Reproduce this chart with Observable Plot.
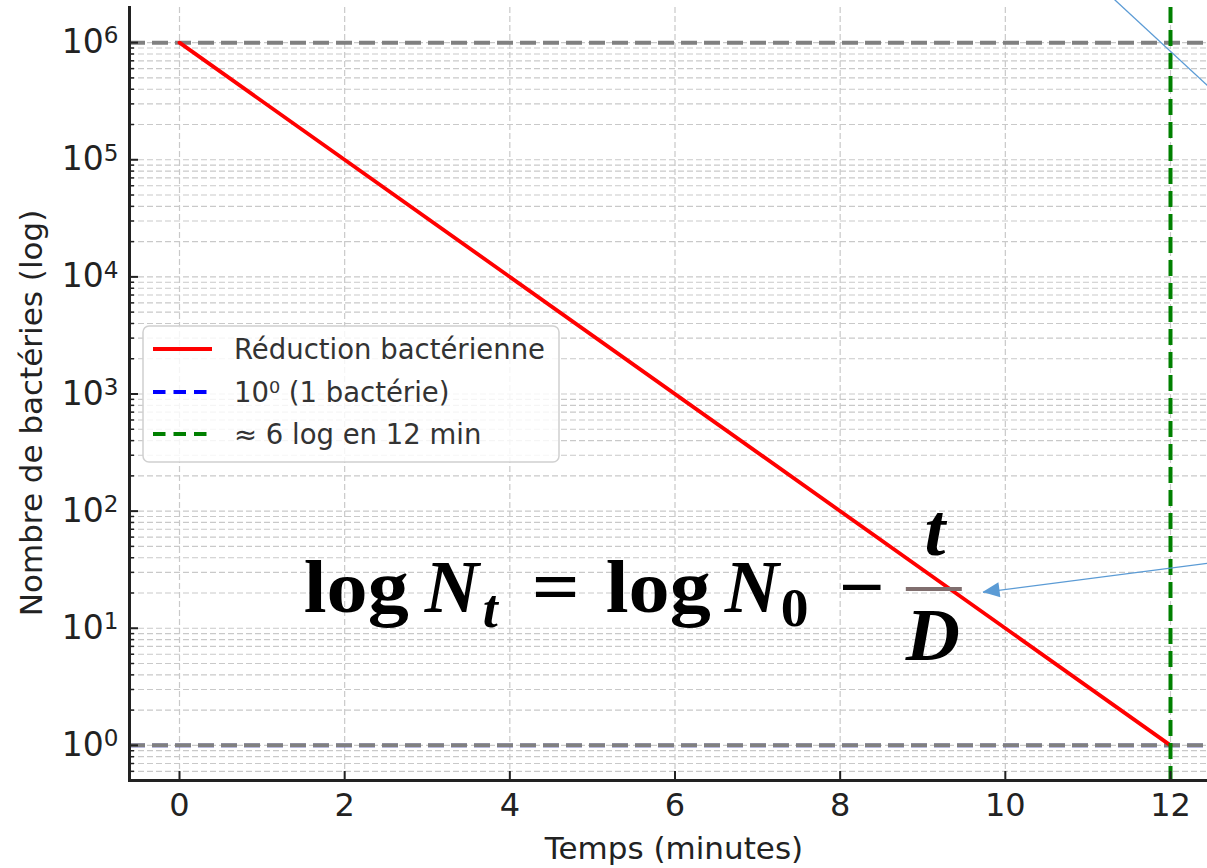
<!DOCTYPE html>
<html><head><meta charset="utf-8">
<script src="https://cdn.jsdelivr.net/npm/d3@7"></script>
<script src="https://cdn.jsdelivr.net/npm/@observablehq/plot@0.6"></script>
<style>
body{margin:0;background:#fff}
#chart{position:relative;width:1207px;height:868px;overflow:hidden;background:#fff}
</style>
</head><body><div id="chart"></div>
<script>
// ---- data ----
const times = [0, 12];                 // minutes
const counts = [1e6, 1];               // bacteria
const xTicks = [0, 2, 4, 6, 8, 10, 12];
const yTicks = [1, 10, 100, 1e3, 1e4, 1e5, 1e6];
const yTickLabels = ["10^0", "10^1", "10^2", "10^3", "10^4", "10^5", "10^6"];
const greyLevels = [1e6, 1];
const oneBacteria = [1];
const greenTime = [12];
const legendLabels = ["Réduction bactérienne", "10⁰ (1 bactérie)", "≈ 6 log en 12 min"];
const legendColors = ["#ff0000", "#0000ff", "#008000"];
const legendDashed = [false, true, true];
const xLabel = "Temps (minutes)";
const yLabel = "Nombre de bactéries (log)";
// annotation anchors (data coordinates)
const eqAnchor = {x: 9.14, y: 21.45};
const arrowA = {x1: 13, y1: 40.2, x2: 9.73, y2: 20.2};
const arrowB = {x1: 11.27, y1: 2.52e6, x2: 12.7, y2: 2.94e5};

const line = times.map((t, i) => ({t, n: counts[i]}));
const yDomain = [10 ** -0.3, 10 ** 6.3];
const minorTicks = [];
for (let k = -1; k <= 6; k++) for (let m = 2; m <= 9; m++) {
  const v = m * 10 ** k;
  if (v > yDomain[0] && v < yDomain[1]) minorTicks.push(v);
}
const labelOf = new Map(yTicks.map((v, i) => [v, yTickLabels[i]]));

const W = 1207, H = 868;
const ink = "#222222";
const font = "DejaVu Sans";

const plot = Plot.plot({
  width: W, height: H,
  marginLeft: 129, marginRight: 0, marginTop: 7, marginBottom: 88,
  style: {fontFamily: font, background: "#ffffff", color: ink, overflow: "hidden"},
  x: {domain: [-0.6, 12.6], range: [129.45, 1219.55]},
  y: {type: "log", domain: yDomain},
  marks: [
    Plot.ruleY(minorTicks.concat(yTicks), {stroke: "#c9c9c9", strokeWidth: 1.2, strokeDasharray: "6,3"}),
    Plot.ruleX(xTicks, {stroke: "#c9c9c9", strokeWidth: 1.2, strokeDasharray: "6,3"}),
    Plot.ruleY(oneBacteria, {stroke: "#0000ff", strokeWidth: 4.6, strokeDasharray: "16,7", strokeOpacity: 0.25}),
    Plot.ruleY(greyLevels, {stroke: "#808080", strokeWidth: 4, strokeDasharray: "16,7"}),
    Plot.line(line, {x: "t", y: "n", stroke: "#ff0000", strokeWidth: 3.8}),
    Plot.ruleX(greenTime, {stroke: "#008000", strokeWidth: 4, strokeDasharray: "16,7"}),
    Plot.link([arrowA], {x1: "x1", y1: "y1", x2: "x2", y2: "y2", stroke: "#5b9bd5", strokeWidth: 1.3}),
    Plot.link([arrowB], {x1: "x1", y1: "y1", x2: "x2", y2: "y2", stroke: "#5b9bd5", strokeWidth: 1.3}),
    // inward ticks
    Plot.axisY(minorTicks, {tickSize: -5, tickFormat: () => "", label: null, stroke: ink, strokeWidth: 1.5}),
    Plot.axisY(yTicks, {tickSize: -9, tickFormat: () => "", label: null, stroke: ink, strokeWidth: 2}),
    Plot.axisX(xTicks, {tickSize: -9, tickFormat: () => "", label: null, stroke: ink, strokeWidth: 2}),
    // labels
    Plot.axisY(yTicks, {tickSize: 0, tickPadding: 11, tickFormat: d => labelOf.get(d), label: null, fontSize: 33, fill: ink}),
    Plot.axisX(xTicks, {tickSize: 0, tickPadding: 13, tickFormat: d => String(d), label: null, fontSize: 32, fill: ink}),
    Plot.frame({anchor: "left", stroke: ink, strokeWidth: 3}),
    Plot.frame({anchor: "bottom", stroke: ink, strokeWidth: 3})
  ]
});
document.getElementById("chart").appendChild(plot);

const svg = d3.select(plot);
const sx = plot.scale("x"), sy = plot.scale("y");

// superscripts on y tick labels
svg.selectAll('g[aria-label="y-axis tick label"] text').each(function () {
  const s = this.textContent;
  if (!s.includes("^")) return;
  const [b, e] = s.split("^");
  const t = d3.select(this);
  t.text(null);
  t.append("tspan").text(b);
  t.append("tspan").attr("dy", "-0.42em").attr("font-size", "0.7em").text(e);
});

// arrow head for arrowA
{
  const tx = sx.apply(arrowA.x2), ty = sy.apply(arrowA.y2);
  const fx = sx.apply(arrowA.x1), fy = sy.apply(arrowA.y1);
  const L = Math.hypot(fx - tx, fy - ty), ux = (fx - tx) / L, uy = (fy - ty) / L;
  const hl = 17, hw = 7.5;
  const bx = tx + ux * hl, by = ty + uy * hl;
  svg.append("polygon")
    .attr("points", `${tx},${ty} ${bx - uy * hw},${by + ux * hw} ${bx + uy * hw},${by - ux * hw}`)
    .attr("fill", "#5b9bd5");
}

// equation
{
  const cx = sx.apply(eqAnchor.x), cy = sy.apply(eqAnchor.y);
  const g = svg.append("g").attr("font-family", "Liberation Serif").attr("font-weight", "bold")
    .attr("fill", "#000").attr("text-anchor", "start");
  const fs = 75;
  const put = (dx, dy, str, o = {}) => {
    const t = g.append("text").attr("x", cx + dx).attr("y", cy + dy).attr("font-size", o.size || fs)
      .attr("text-anchor", o.anchor || "start").text(str);
    if (o.italic) t.attr("font-style", "italic");
    if (o.len) t.attr("textLength", o.len).attr("lengthAdjust", "spacingAndGlyphs");
    return t;
  };
  put(-630, 23, "log", {len: 105});
  put(-509, 23, "N", {italic: true});
  put(-451, 38, "t", {italic: true, size: fs * 0.72});
  put(-378, 23, "=", {anchor: "middle", len: 48});
  put(-328, 23, "log", {len: 105});
  put(-209, 23, "N", {italic: true});
  put(-153, 37, "0", {size: fs * 0.74});
  put(-72, 23, "−", {anchor: "middle", len: 46});
  put(1, -34, "t", {italic: true, anchor: "middle"});
  put(-1, 71, "D", {italic: true, anchor: "middle"});
  g.append("line").attr("x1", cx - 28).attr("x2", cx + 28).attr("y1", cy).attr("y2", cy)
    .attr("stroke", "#806e6e").attr("stroke-width", 4);
}

// axis titles
svg.append("text").attr("x", 674).attr("y", 859).attr("text-anchor", "middle")
  .attr("font-family", font).attr("font-size", 31).attr("fill", ink).text(xLabel);
svg.append("text").attr("transform", "translate(42,413) rotate(-90)").attr("text-anchor", "middle")
  .attr("font-family", font).attr("font-size", 31).attr("fill", ink).text(yLabel);

// legend
{
  const lg = svg.append("g").attr("font-family", font).attr("text-anchor", "start");
  lg.append("rect").attr("x", 143).attr("y", 326).attr("width", 416).attr("height", 136).attr("rx", 6)
    .attr("fill", "#ffffff").attr("fill-opacity", 0.82).attr("stroke", "#d0d0d0").attr("stroke-width", 1.5);
  const rows = [349, 392, 434];
  legendLabels.forEach((lab, i) => {
    const l = lg.append("line").attr("x1", 153).attr("x2", 212).attr("y1", rows[i]).attr("y2", rows[i])
      .attr("stroke", legendColors[i]).attr("stroke-width", 3.8);
    if (legendDashed[i]) l.attr("stroke-dasharray", "12.5,8");
    lg.append("text").attr("x", 234).attr("y", rows[i] + 10).attr("font-size", 27.5)
      .attr("text-anchor", "start").attr("fill", "#333").text(lab);
  });
}
</script>
</body></html>
